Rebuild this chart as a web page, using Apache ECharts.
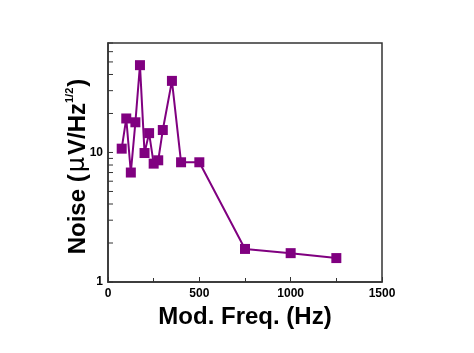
<!DOCTYPE html>
<html>
<head>
<meta charset="utf-8">
<script src="https://cdn.jsdelivr.net/npm/echarts@6/dist/echarts.min.js"></script>
<style>
  html, body { margin: 0; padding: 0; background: #fff; }
  #chart { width: 474px; height: 353px; }
</style>
</head>
<body>
<div id="chart"></div>
<script>
// 调制频率 (Hz) 与噪声 (μV/Hz^1/2)
const freq = [75, 100, 125, 150, 175, 200, 225, 250, 275, 300, 350, 400, 500, 750, 1000, 1250];
const noise = [10.7, 18.3, 7.0, 17.1, 47.2, 9.9, 14.1, 8.2, 8.7, 14.9, 35.7, 8.4, 8.4, 1.80, 1.67, 1.53];
const yTicks = [1, 2, 3, 4, 5, 6, 7, 8, 9, 10, 20, 30, 40, 50, 60, 70];
const yLabels = [1, 10];

const chart = echarts.init(document.getElementById('chart'));
const font = 'Liberation Sans, Arial, sans-serif';

const option = {
  animation: false,
  grid: {
    left: 108,
    right: 92,
    top: 43,
    bottom: 71,
    show: true,
    borderColor: '#333',
    borderWidth: 1.5
  },
  xAxis: {
    type: 'value',
    min: 0,
    max: 1500,
    interval: 500,
    name: 'Mod. Freq. (Hz)',
    nameLocation: 'middle',
    nameGap: 23,
    nameMoveOverlap: false,
    nameTextStyle: { fontFamily: font, fontWeight: 'bold', fontSize: 24, color: '#000' },
    axisLine: { lineStyle: { color: '#333', width: 1.5 } },
    axisTick: { inside: true, length: 5, lineStyle: { color: '#333' } },
    minorTick: { show: true, splitNumber: 2, length: 4, lineStyle: { color: '#333' } },
    splitLine: { show: false },
    axisLabel: {
      fontFamily: font, fontWeight: 'bold', fontSize: 12, color: '#000', margin: 6,
      formatter: v => String(v)
    }
  },
  yAxis: {
    type: 'log',
    logBase: 10,
    min: 1,
    max: 70,
    name: '{a|Noise (}{m|μ}{a|V/Hz}{s|1/2}{a|)}',
    nameLocation: 'middle',
    nameRotate: 90,
    nameGap: 16,
    nameMoveOverlap: false,
    nameTextStyle: {
      padding: [0, 8, 0, 0],
      rich: {
        a: { fontFamily: font, fontWeight: 'bold', fontSize: 24, color: '#000' },
        m: { fontFamily: 'DejaVu Sans, sans-serif', fontSize: 24, color: '#000', padding: [0, 2, 0, 2] },
        s: { fontFamily: font, fontWeight: 'bold', fontSize: 11, color: '#000', padding: [0, 1, 17, 0] }
      }
    },
    axisLine: { lineStyle: { color: '#333', width: 1.5 } },
    axisTick: { show: false },
    splitLine: { show: false },
    axisLabel: { customValues: yLabels, fontFamily: font, fontWeight: 'bold', fontSize: 12, color: '#000', margin: 5 }
  },
  series: [
    {
      // 对数轴刻度线
      type: 'custom',
      silent: true,
      clip: false,
      data: yTicks.map(v => [0, v]),
      renderItem: (params, api) => {
        const p = api.coord([api.value(0), api.value(1)]);
        return {
          type: 'line',
          shape: { x1: p[0], y1: p[1], x2: p[0] + 5, y2: p[1] },
          style: { stroke: '#333', lineWidth: 1 }
        };
      },
      z: 1
    },
    {
      type: 'line',
      data: freq.map((f, i) => [f, noise[i]]),
      symbol: 'rect',
      symbolSize: 10,
      itemStyle: { color: '#800080' },
      lineStyle: { color: '#800080', width: 2 },
      z: 3
    }
  ]
};

chart.setOption(option);
</script>
</body>
</html>
